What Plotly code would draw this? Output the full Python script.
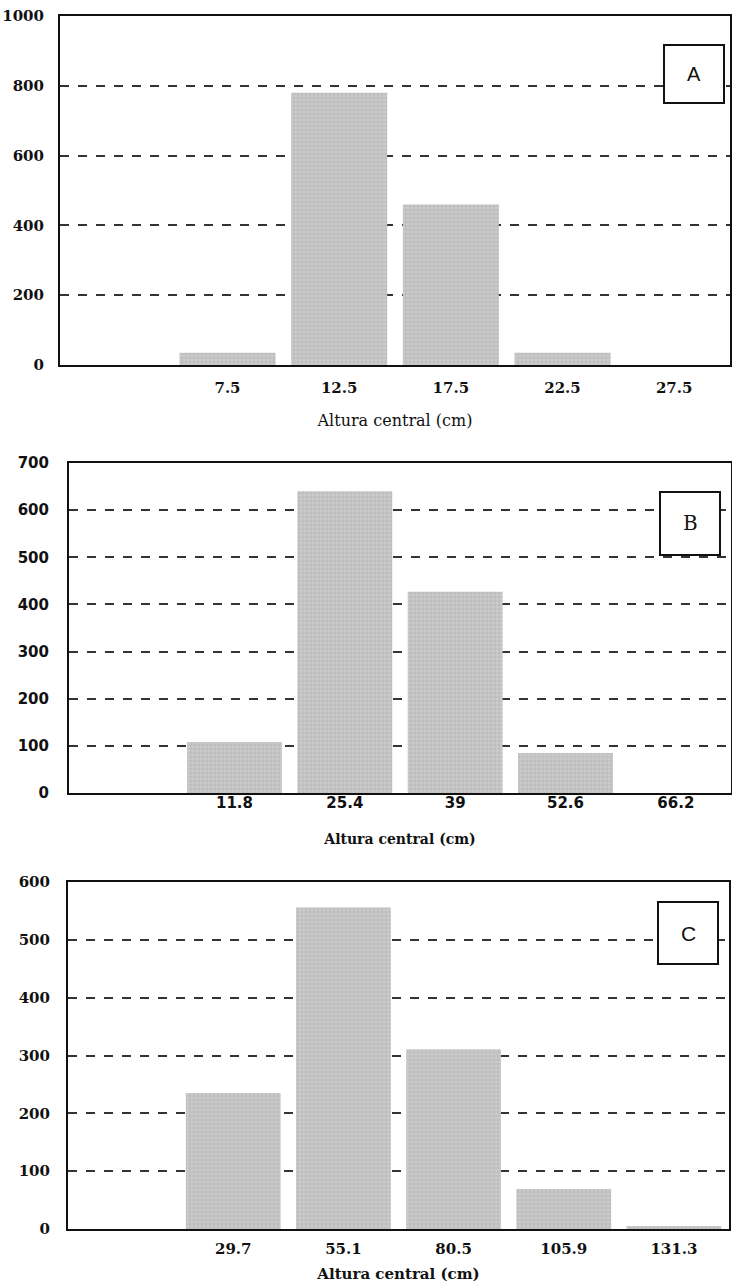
import plotly.graph_objects as go

# ---------------- data ----------------
# Panel A
a_centers = [2.5, 7.5, 12.5, 17.5, 22.5, 27.5]
a_counts = [0, 35, 780, 460, 35, 0]
a_ticks = ["7.5", "12.5", "17.5", "22.5", "27.5"]
a_yticks = [0, 200, 400, 600, 800, 1000]

# Panel B
b_centers = [-1.8, 11.8, 25.4, 39, 52.6, 66.2]
b_counts = [0, 108, 640, 427, 85, 0]
b_ticks = ["11.8", "25.4", "39", "52.6", "66.2"]
b_yticks = [0, 100, 200, 300, 400, 500, 600, 700]

# Panel C
c_centers = [4.3, 29.7, 55.1, 80.5, 105.9, 131.3]
c_counts = [0, 235, 556, 311, 69, 5]
c_ticks = ["29.7", "55.1", "80.5", "105.9", "131.3"]
c_yticks = [0, 100, 200, 300, 400, 500, 600]

x_title = "Altura central (cm)"
panel_letters = ["A", "B", "C"]

# ---------------- figure ----------------
W, H = 732, 1284
fig = go.Figure()

SERIF = "DejaVu Serif, Georgia, serif"
SANS = "DejaVu Sans, Arial, sans-serif"
LSANS = "Liberation Sans, Arial, sans-serif"

panels = [
    dict(c=a_centers, v=a_counts, t=a_ticks, yt=a_yticks, top=16, bot=365, left=60, right=730,
         tfont=SERIF, tweight="bold", tsize=15, ttfont=SERIF, ttweight="normal", ttsize=16,
         ymax=1000, letter_font=LSANS, lsize=20, ystand=11, xstand=8, tst=19,
         box=(664, 45, 724, 103)),
    dict(c=b_centers, v=b_counts, t=b_ticks, yt=b_yticks, top=463, bot=793, left=69, right=731,
         tfont=SANS, tweight="bold", tsize=15, ttfont=SERIF, ttweight="bold", ttsize=14,
         ymax=700, letter_font=SERIF, lsize=20, ystand=15, xstand=-5, tst=23,
         box=(660, 492, 720, 555)),
    dict(c=c_centers, v=c_counts, t=c_ticks, yt=c_yticks, top=882, bot=1229, left=68, right=729,
         tfont=SERIF, tweight="bold", tsize=15, ttfont=SERIF, ttweight="bold", ttsize=15,
         ymax=600, letter_font=LSANS, lsize=21, ystand=13, xstand=5, tst=11,
         box=(658, 902, 718, 964)),
]

for i, p in enumerate(panels):
    n = "" if i == 0 else str(i + 1)
    xa, ya = "x" + n, "y" + n
    step = p["c"][1] - p["c"][0]
    fig.add_trace(go.Bar(
        x=p["c"], y=p["v"], xaxis=xa, yaxis=ya,
        marker=dict(color="#c4c4c4", line=dict(width=0),
                    pattern=dict(shape="+", fgcolor="#9c9c9c", bgcolor="#cbcbcb",
                                 size=4, solidity=0.3)),
        showlegend=False, hoverinfo="x+y",
    ))
    xdom = [p["left"] / W, p["right"] / W]
    ydom = [1 - p["bot"] / H, 1 - p["top"] / H]
    xkw = dict(
        domain=xdom, anchor=ya, automargin=False,
        range=[p["c"][0] - step / 2, p["c"][-1] + step / 2],
        tickvals=p["c"][1:], ticktext=p["t"],
        showgrid=False, zeroline=False,
        showline=True, linecolor="#111", linewidth=2, mirror=True,
        ticks="", ticklabelstandoff=p["xstand"],
        tickfont=dict(family=p["tfont"], size=p["tsize"], color="#111", weight=p["tweight"]),
        title=dict(text=x_title, standoff=p["tst"],
                   font=dict(family=p["ttfont"], size=p["ttsize"], color="#111",
                             weight=p["ttweight"])),
    )
    ykw = dict(
        domain=ydom, anchor=xa, automargin=False,
        range=[0, p["ymax"]], tickvals=p["yt"],
        showgrid=True, gridcolor="#333", gridwidth=1.5, griddash="9px,9px",
        zeroline=False, showline=True, linecolor="#111", linewidth=2, mirror=True,
        ticks="", ticklabelstandoff=p["ystand"],
        tickfont=dict(family=p["tfont"], size=p["tsize"], color="#111", weight=p["tweight"]),
    )
    fig.layout["xaxis" + n] = xkw
    fig.layout["yaxis" + n] = ykw

    x0, y0, x1, y1 = p["box"]
    fig.add_shape(type="rect", xref="paper", yref="paper",
                  x0=x0 / W, x1=x1 / W, y0=1 - y1 / H, y1=1 - y0 / H,
                  line=dict(color="#111", width=2), fillcolor="white", layer="above")
    fig.add_annotation(xref="paper", yref="paper",
                       x=(x0 + x1) / 2 / W, y=1 - (y0 + y1) / 2 / H,
                       xanchor="center", yanchor="middle",
                       text=panel_letters[i], showarrow=False,
                       font=dict(family=p["letter_font"], size=p["lsize"], color="#111"))

fig.update_layout(
    width=W, height=H,
    margin=dict(l=0, r=0, t=0, b=0, autoexpand=False),
    paper_bgcolor="white", plot_bgcolor="white",
    bargap=0.14,
)

fig.write_html("out.html", config={"displayModeBar": False},
               post_script="document.body.style.margin='0';document.body.style.overflow='hidden';")
